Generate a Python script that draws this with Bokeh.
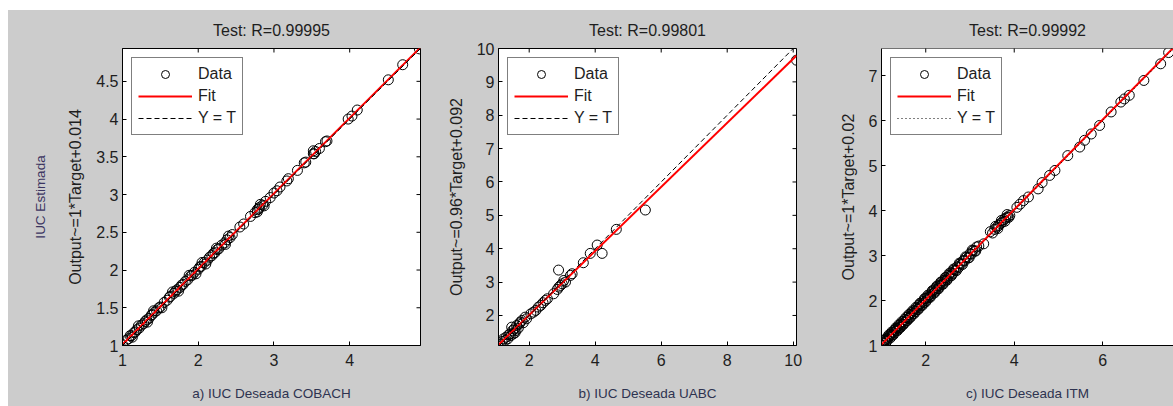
import math
from bokeh.plotting import figure
from bokeh.models import (LinearAxis, FixedTicker, Legend, LegendItem,
                          Range1d, CustomJSTickFormatter, Spacer, Span)
from bokeh.layouts import row, column
from bokeh.embed import file_html
from bokeh.resources import INLINE

# ---------------- data ----------------
# a) COBACH
t_cobach = [1.00, 1.05, 1.08, 1.10, 1.12, 1.15, 1.17, 1.19, 1.22, 1.25, 1.28, 1.30,
            1.32, 1.35, 1.38, 1.39, 1.42, 1.45, 1.48, 1.50, 1.55, 1.59, 1.62, 1.63,
            1.68, 1.70, 1.72, 1.76, 1.78, 1.80, 1.83, 1.86, 1.90, 1.92, 1.95, 2.00,
            2.02, 2.04, 2.08, 2.12, 2.15, 2.18, 2.20, 2.22, 2.25, 2.27, 2.31, 2.35,
            2.38, 2.42, 2.45, 2.55, 2.60, 2.69, 2.75, 2.78, 2.80, 2.81, 2.85, 2.89,
            2.95, 3.00, 3.04, 3.08, 3.17, 3.19, 3.31, 3.40, 3.42, 3.52, 3.53, 3.55,
            3.60, 3.68, 3.70, 3.98, 4.03, 4.10, 4.51, 4.70, 4.92,
            1.13, 1.21, 1.33, 1.41, 1.52, 1.66, 1.74, 1.88, 1.97, 2.05, 2.10, 2.24,
            2.36, 2.40, 2.78, 2.82, 2.87, 3.52]
o_cobach = [1.01, 1.07, 1.09, 1.13, 1.13, 1.17, 1.18, 1.21, 1.23, 1.27, 1.29, 1.32,
            1.34, 1.36, 1.40, 1.41, 1.44, 1.46, 1.50, 1.51, 1.57, 1.60, 1.64, 1.65,
            1.69, 1.72, 1.74, 1.77, 1.80, 1.81, 1.85, 1.87, 1.92, 1.93, 1.97, 2.01,
            2.04, 2.05, 2.10, 2.13, 2.17, 2.19, 2.22, 2.23, 2.27, 2.28, 2.33, 2.36,
            2.40, 2.43, 2.47, 2.57, 2.61, 2.71, 2.76, 2.80, 2.81, 2.83, 2.86, 2.91,
            2.96, 3.02, 3.05, 3.10, 3.18, 3.21, 3.32, 3.42, 3.43, 3.54, 3.54, 3.57,
            3.61, 3.70, 3.71, 4.00, 4.04, 4.12, 4.52, 4.72, 4.93,
            1.11, 1.26, 1.31, 1.46, 1.50, 1.71, 1.72, 1.93, 1.95, 2.10, 2.08, 2.29,
            2.34, 2.45, 2.77, 2.87, 2.85, 3.58]
fit_cobach = (1.0, 0.014)

# b) UABC
t_uabc = [1.06, 1.12, 1.18, 1.22, 1.27, 1.30, 1.35, 1.38, 1.42, 1.45, 1.47, 1.50,
          1.52, 1.55, 1.57, 1.60, 1.62, 1.67, 1.70, 1.73, 1.78, 1.82, 1.88, 1.92,
          2.05, 2.13, 2.20, 2.28, 2.35, 2.42, 2.49, 2.55, 2.74, 2.85, 2.90, 2.89,
          2.95, 3.00, 3.05, 3.10, 3.25, 3.30, 3.64, 3.85, 4.06, 4.21, 4.64, 5.52, 10.10]
o_uabc = [1.13, 1.15, 1.22, 1.30, 1.25, 1.35, 1.30, 1.42, 1.45, 1.40, 1.65, 1.55,
          1.45, 1.60, 1.48, 1.55, 1.70, 1.62, 1.75, 1.80, 1.85, 1.78, 1.95, 1.90,
          2.05, 2.10, 2.15, 2.25, 2.30, 2.38, 2.45, 2.50, 2.65, 2.78, 2.85, 3.36,
          2.90, 2.95, 3.05, 3.00, 3.20, 3.25, 3.58, 3.86, 4.11, 3.86, 4.58, 5.16, 9.65]
fit_uabc = (0.96, 0.092)

# c) ITM
t_itm = [1.00, 1.03, 1.05, 1.08, 1.09, 1.12, 1.14, 1.17, 1.18, 1.21, 1.24, 1.25,
         1.28, 1.30, 1.33, 1.34, 1.37, 1.40, 1.41, 1.44, 1.47, 1.49, 1.52, 1.53,
         1.56, 1.59, 1.61, 1.63, 1.66, 1.68, 1.71, 1.73, 1.76, 1.79, 1.81, 1.84,
         1.86, 1.88, 1.91, 1.94, 1.96, 1.99, 2.01, 2.04, 2.06, 2.09, 2.11, 2.14,
         2.17, 2.19, 2.22, 2.24, 2.27, 2.30, 2.32, 2.35, 2.38, 2.41, 2.43, 2.46,
         2.49, 2.52, 2.55, 2.57, 2.61, 2.64, 2.67, 2.71, 2.74, 2.78, 2.81, 2.85,
         2.88, 2.92, 2.96, 3.00, 3.03, 3.07, 3.11, 3.15, 3.20, 3.31, 3.46, 3.51,
         3.56, 3.61, 3.65, 3.69, 3.73, 3.77, 3.81, 3.85, 3.90, 4.06, 4.13, 4.21,
         4.32, 4.54, 4.63, 4.80, 4.92, 5.21, 5.48, 5.59, 5.74, 5.93, 6.19, 6.41,
         6.49, 6.60, 6.93, 7.31, 7.49,
         1.02, 1.07, 1.11, 1.16, 1.20, 1.23, 1.27, 1.32, 1.36, 1.39, 1.43, 1.46,
         1.50, 1.55, 1.58, 1.62, 1.65, 1.70, 1.74, 1.78, 1.83, 1.87, 1.92, 1.97,
         2.00, 2.05, 2.10, 2.15, 2.20, 2.25, 2.29, 2.34, 2.39, 2.44, 2.48, 2.53,
         2.58, 2.63, 2.69, 2.76, 2.83, 2.90, 2.98, 3.05, 3.13, 3.58, 3.63, 3.71,
         3.79, 3.84, 3.88]
o_itm = [1.01, 1.06, 1.04, 1.12, 1.10, 1.16, 1.13, 1.21, 1.19, 1.25, 1.23, 1.29,
         1.28, 1.34, 1.32, 1.38, 1.37, 1.44, 1.40, 1.48, 1.46, 1.53, 1.51, 1.58,
         1.55, 1.63, 1.60, 1.68, 1.65, 1.73, 1.70, 1.77, 1.75, 1.83, 1.80, 1.89,
         1.85, 1.93, 1.90, 1.98, 1.95, 2.04, 2.00, 2.08, 2.06, 2.13, 2.10, 2.19,
         2.16, 2.24, 2.21, 2.29, 2.26, 2.34, 2.32, 2.40, 2.37, 2.45, 2.43, 2.51,
         2.48, 2.56, 2.54, 2.62, 2.60, 2.68, 2.67, 2.75, 2.73, 2.82, 2.81, 2.89,
         2.88, 2.96, 2.95, 3.04, 3.03, 3.11, 3.10, 3.19, 3.21, 3.26, 3.53, 3.50,
         3.58, 3.63, 3.67, 3.71, 3.74, 3.80, 3.83, 3.86, 3.89, 4.07, 4.14, 4.22,
         4.30, 4.48, 4.62, 4.78, 4.89, 5.22, 5.41, 5.56, 5.70, 5.89, 6.19, 6.41,
         6.48, 6.56, 6.89, 7.26, 7.51,
         1.00, 1.13, 1.08, 1.23, 1.17, 1.30, 1.24, 1.39, 1.33, 1.46, 1.40, 1.53,
         1.47, 1.62, 1.55, 1.69, 1.62, 1.77, 1.71, 1.85, 1.80, 1.94, 1.89, 2.04,
         1.97, 2.12, 2.07, 2.22, 2.17, 2.32, 2.26, 2.41, 2.36, 2.51, 2.45, 2.60,
         2.55, 2.70, 2.66, 2.83, 2.80, 2.97, 2.95, 3.12, 3.10, 3.65, 3.60, 3.78,
         3.76, 3.91, 3.85]
fit_itm = (1.0, 0.02)

titles = ["Test: R=0.99995", "Test: R=0.99801", "Test: R=0.99992"]
xlabels = ["a) IUC Deseada COBACH", "b) IUC Deseada UABC", "c) IUC Deseada ITM"]
ylabels = ["Output~=1*Target+0.014", "Output~=0.96*Target+0.092", "Output~=1*Target+0.02"]

xticks_cobach = [1, 2, 3, 4]
yticks_cobach = [1, 1.5, 2, 2.5, 3, 3.5, 4, 4.5]
xticks_uabc = [2, 4, 6, 8, 10]
yticks_uabc = [2, 3, 4, 5, 6, 7, 8, 9, 10]
xticks_itm = [2, 4, 6]
yticks_itm = [1, 2, 3, 4, 5, 6, 7]

# ---------------- style ----------------
GRAY = "#cccccc"
FONT = "Liberation Sans"
TXT = "#1e1e1e"
LBL = "#2e3350"
H = 396


def style_axis(ax, ticks):
    ax.ticker = FixedTicker(ticks=ticks)
    ax.formatter = CustomJSTickFormatter(code="return String(tick);")
    ax.major_tick_in = 4
    ax.major_tick_out = 0
    ax.minor_tick_line_color = None
    ax.axis_line_color = "black"
    ax.major_tick_line_color = "black"
    ax.major_label_text_font = FONT
    ax.major_label_text_color = TXT
    ax.major_label_text_font_size = "16px"


def panel(t, o, fit, xr, yr, xt, yt, title, xlabel, ylabel, dash,
          width, bl, br, right_side=True, extra=None):
    p = figure(width=width, height=H, x_range=Range1d(*xr), y_range=Range1d(*yr),
               output_backend="svg", toolbar_location=None,
               min_border_left=bl, min_border_right=br,
               min_border_top=38, min_border_bottom=61,
               background_fill_color="white", border_fill_color=GRAY)
    p.grid.visible = False
    p.title.text = title
    p.title.align = "center"
    p.title.text_font = FONT
    p.title.text_font_size = "16px"
    p.title.text_font_style = "normal"
    p.title.text_color = TXT
    p.title.standoff = 19

    style_axis(p.xaxis[0], xt)
    style_axis(p.yaxis[0], yt)
    p.xaxis.major_label_standoff = 8
    p.yaxis.major_label_standoff = 4
    p.xaxis.axis_label = xlabel
    p.xaxis.axis_label_text_font = FONT
    p.xaxis.axis_label_text_font_size = "13.5px"
    p.xaxis.axis_label_text_font_style = "normal"
    p.xaxis.axis_label_text_color = LBL
    p.xaxis.axis_label_standoff = 17
    p.yaxis.axis_label = ylabel
    p.yaxis.axis_label_text_font = FONT
    p.yaxis.axis_label_text_font_size = "16px"
    p.yaxis.axis_label_text_font_style = "normal"
    p.yaxis.axis_label_text_color = TXT
    p.yaxis.axis_label_standoff = 9

    if extra is not None:
        ex = LinearAxis(ticker=FixedTicker(ticks=[]), axis_line_color=None,
                        major_tick_line_color=None, minor_tick_line_color=None,
                        major_label_standoff=0,
                        axis_label=extra, axis_label_text_font=FONT,
                        axis_label_text_font_size="13.5px",
                        axis_label_text_font_style="normal",
                        axis_label_text_color="#3b3561", axis_label_standoff=17)
        p.add_layout(ex, "left")

    # box: full outline, or (for the cut-off right panel) a top edge only
    if right_side:
        p.outline_line_color = "black"
    else:
        p.outline_line_color = None
        p.add_layout(Span(location=yr[1], dimension="width",
                          line_color="black", line_width=1))

    r_data = p.scatter(t, o, marker="circle", size=10, fill_color=None,
                       line_color="black", line_width=1)
    xs = [xr[0], xr[1]]
    fy = [fit[0] * x + fit[1] for x in xs]
    r_fit = p.line(xs, fy, line_color="red", line_width=2)
    r_yt = p.line(xs, xs, line_color="black", line_width=1, line_dash=dash)

    # inward tick marks on the top (and right) edge of the box
    p.scatter(xt, [yr[1]] * len(xt), marker="dash", angle=math.pi / 2, size=8,
              line_color="black", line_width=1)
    if right_side:
        p.scatter([xr[1]] * len(yt), yt, marker="dash", size=8,
                  line_color="black", line_width=1)

    leg = Legend(items=[LegendItem(label="Data", renderers=[r_data]),
                        LegendItem(label="Fit", renderers=[r_fit]),
                        LegendItem(label="Y = T", renderers=[r_yt])],
                 location="top_left", margin=9, padding=6, spacing=2,
                 glyph_width=54, glyph_height=20, label_height=20,
                 label_standoff=6, label_text_font=FONT,
                 label_text_font_size="16px", label_text_color=TXT,
                 border_line_color="black", border_line_width=1,
                 background_fill_color="white", background_fill_alpha=1.0)
    p.add_layout(leg)
    return p


p1 = panel(t_cobach, o_cobach, fit_cobach, (1.0, 4.935), (1.0, 4.935),
           xticks_cobach, yticks_cobach, titles[0], xlabels[0], ylabels[0], "5 3",
           432, 114, 20, extra="IUC Estimada")
p2 = panel(t_uabc, o_uabc, fit_uabc, (1.07, 10.1), (1.1, 10.0),
           xticks_uabc, yticks_uabc, titles[1], xlabels[1], ylabels[1], "5 3",
           396, 58, 40)
p3 = panel(t_itm, o_itm, fit_itm, (1.0, 7.6), (1.0, 7.6),
           xticks_itm, yticks_itm, titles[2], xlabels[2], ylabels[2], "1 3",
           337, 44, 0, right_side=False)

panels = row(p1, p2, p3, spacing=0, styles={"background-color": GRAY})
layout = column(Spacer(height=10, width=1173),
                row(Spacer(width=8, height=H), panels, spacing=0),
                spacing=0)

open("out.html", "w").write(file_html(layout, INLINE))
